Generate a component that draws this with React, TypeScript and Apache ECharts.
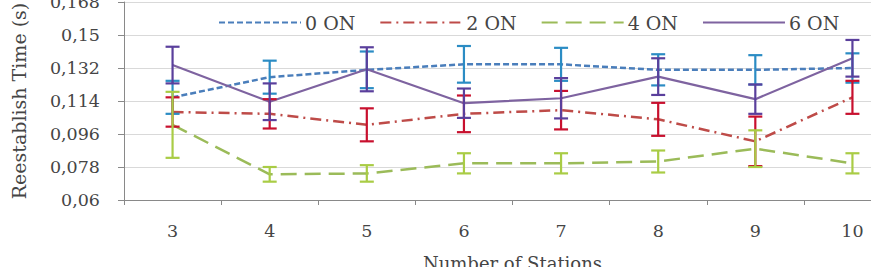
import React, { useEffect, useRef } from "react";
import * as echarts from "echarts";

const categories = ["3", "4", "5", "6", "7", "8", "9", "10"];
const yTickLabels = ["0,06", "0,078", "0,096", "0,114", "0,132", "0,15", "0,168"];
const yMin = 0.06;
const yStep = 0.018;

const on0 = [0.116, 0.127, 0.131, 0.134, 0.134, 0.131, 0.131, 0.132];
const on0Err = [0.009, 0.009, 0.01, 0.01, 0.009, 0.0085, 0.008, 0.008];
const on2 = [0.108, 0.107, 0.101, 0.107, 0.109, 0.104, 0.092, 0.116];
const on2Err = [0.008, 0.008, 0.009, 0.01, 0.0105, 0.009, 0.0135, 0.009];
const on4 = [0.101, 0.074, 0.0745, 0.08, 0.08, 0.081, 0.088, 0.08];
const on4Err = [0.018, 0.004, 0.0045, 0.0055, 0.0055, 0.006, 0.01, 0.0055];
const on6 = [0.1336, 0.1136, 0.1313, 0.1128, 0.1155, 0.1273, 0.115, 0.1373];
const on6Err = [0.01, 0.01, 0.012, 0.008, 0.011, 0.01, 0.008, 0.01];

const seriesNames = ["0 ON", "2 ON", "4 ON", "6 ON"];

const FONT = "DejaVu Serif";
const TEXT = "#454545";

const t = (v: number) => (v - yMin) / yStep;

export default function App() {
  const ref = useRef<HTMLDivElement>(null);
  useEffect(() => {
    if (!ref.current) return;
    const chart = echarts.init(ref.current, null, { renderer: "svg" });

    const defs = [
      { name: seriesNames[0], vals: on0, errs: on0Err, color: "#4a7ebb", errColor: "#2b8cc4", type: [6, 3] as any, width: 2.5 },
      { name: seriesNames[1], vals: on2, errs: on2Err, color: "#be4b48", errColor: "#c8102e", type: [11, 5, 2, 5] as any, width: 2.5 },
      { name: seriesNames[2], vals: on4, errs: on4Err, color: "#9bbb59", errColor: "#a9cc45", type: [16, 8] as any, width: 2.5 },
      { name: seriesNames[3], vals: on6, errs: on6Err, color: "#7e63a0", errColor: "#5a3f9c", type: "solid" as any, width: 2.2 },
    ];

    const lineSeries = defs.map((d) => ({
      type: "line",
      name: d.name,
      data: d.vals.map(t),
      symbol: "none",
      lineStyle: { color: d.color, width: d.width, type: d.type },
      itemStyle: { color: d.color },
      z: 2,
    }));

    const errSeries = defs.map((d) => ({
      type: "custom",
      name: d.name + " err",
      data: d.vals.map((v, i) => [i, t(v - d.errs[i]), t(v + d.errs[i])]),
      encode: { x: 0, y: [1, 2] },
      z: 3,
      renderItem: (params: any, api: any) => {
        const x = api.value(0);
        const lo = api.coord([x, api.value(1)]);
        const hi = api.coord([x, api.value(2)]);
        const cw = 7;
        const style = { stroke: d.errColor, lineWidth: 2.2 };
        return {
          type: "group",
          children: [
            { type: "line", shape: { x1: lo[0], y1: lo[1], x2: hi[0], y2: hi[1] }, style },
            { type: "line", shape: { x1: hi[0] - cw, y1: hi[1], x2: hi[0] + cw, y2: hi[1] }, style },
            { type: "line", shape: { x1: lo[0] - cw, y1: lo[1], x2: lo[0] + cw, y2: lo[1] }, style },
          ],
        };
      },
    }));

    chart.setOption({
      animation: false,
      backgroundColor: "#ffffff",
      grid: { left: 124, right: -30, top: 2, bottom: 67, containLabel: false, outerBoundsMode: "none" },
      legend: {
        data: seriesNames,
        left: 213,
        top: 8,
        itemWidth: 82,
        itemHeight: 12,
        itemGap: 24,
        itemStyle: { opacity: 0 },
        textStyle: { fontFamily: FONT, fontSize: 19, color: TEXT, padding: [0, 0, 0, -1] },
      },
      xAxis: {
        type: "category",
        data: categories,
        boundaryGap: true,
        name: "Number of Stations",
        nameLocation: "middle",
        nameGap: 54,
        nameTextStyle: { fontFamily: FONT, fontSize: 18, color: TEXT },
        axisLine: { show: true, lineStyle: { color: "#898989", width: 1 } },
        axisTick: { show: true, length: 5, alignWithLabel: false, lineStyle: { color: "#898989" } },
        axisLabel: { fontFamily: FONT, fontSize: 17.5, color: TEXT, margin: 22 },
        splitLine: { show: false },
      },
      yAxis: {
        type: "value",
        min: 0,
        max: 6,
        interval: 1,
        name: "Reestablish Time (s)",
        nameLocation: "middle",
        nameGap: 96,
        nameTextStyle: { fontFamily: FONT, fontSize: 19, color: TEXT },
        axisLine: { show: true, lineStyle: { color: "#898989", width: 1 } },
        axisTick: { show: true, length: 6, lineStyle: { color: "#898989" } },
        axisLabel: {
          fontFamily: FONT,
          fontSize: 17.5,
          color: TEXT,
          margin: 24,
          formatter: (v: number) => yTickLabels[Math.round(v)] ?? "",
        },
        splitLine: { show: true, lineStyle: { color: "#d9d9d9", width: 1 } },
      },
      series: [...lineSeries, ...errSeries],
    });

    return () => chart.dispose();
  }, []);

  return (
    <div
      ref={ref}
      style={{ position: "fixed", left: 0, top: 0, width: 871, height: 267, background: "#fff" }}
    />
  );
}
